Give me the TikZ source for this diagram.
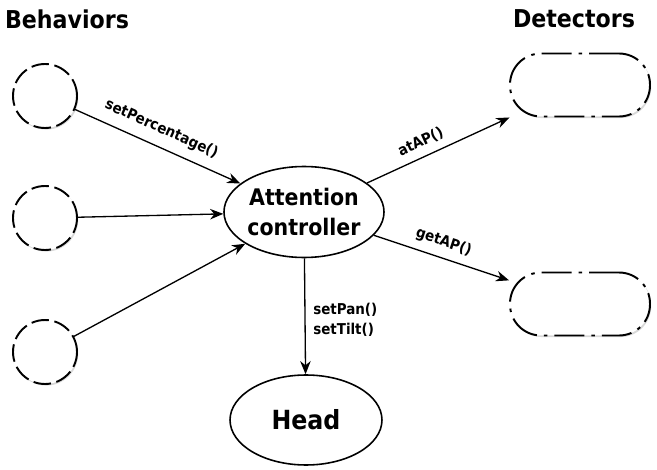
\documentclass[tikz,border=0pt]{standalone}
\usepackage{fontspec}
\setmainfont{DejaVu Sans Condensed}
\usepackage{tikz}
\usetikzlibrary{positioning}
\usetikzlibrary{shapes.geometric}
\usetikzlibrary{shadows}
\usetikzlibrary{arrows.meta}

\begin{document}
\begin{tikzpicture}[x=0.02cm, y=-0.02cm,
  behavior/.style={circle, draw, fill=white, line width=1.1pt,
    dash pattern=on 10pt off 3.2pt, minimum size=1.28cm,
    drop shadow={opacity=0.3, shadow xshift=0.7pt, shadow yshift=-0.9pt}},
  detector/.style={rectangle, draw, fill=white, rounded corners=0.62cm,
    line width=1.1pt, dash pattern=on 17pt off 4pt on 2pt off 4pt,
    minimum width=2.8cm, minimum height=1.26cm,
    drop shadow={opacity=0.3, shadow xshift=0.7pt, shadow yshift=-0.9pt}},
  module/.style={ellipse, draw, line width=0.9pt, align=center,
    minimum width=3.1cm, minimum height=1.82cm, inner sep=0pt},
  title/.style={font=\fontsize{14}{16}\selectfont\bfseries},
  call/.style={font=\fontsize{8.5}{10}\selectfont\bfseries},
  link/.style={-{Stealth[length=7.5pt, width=6pt]}, line width=0.75pt}]

\useasboundingbox (0,0) rectangle (657,470);

% titles
\node[title] (behaviors) at (67,19) {Behaviors};
\node[title] (detectors) at (574,19) {Detectors};

% behaviors
\node[behavior] (b1) at (45,96) {};
\node[behavior] (b2) at (45,218) {};
\node[behavior] (b3) at (45,352) {};

% controller and head
\node[module, font=\fontsize{13}{17.5}\selectfont\bfseries] (ctrl) at (304,212)
  {Attention\\controller};
\node[module, minimum width=3.04cm, minimum height=1.8cm,
  font=\fontsize{15}{17}\selectfont\bfseries] (head) at (306,420) {Head};

% detectors
\node[detector] (d1) at (580,85) {};
\node[detector] (d2) at (580,304) {};

% connectors
\draw[link] (b1) -- node[call, sloped, above=2pt, pos=0.48] {setPercentage()} (ctrl);
\draw[link] (b2) -- (ctrl);
\draw[link] (b3) -- (ctrl);
\draw[link] (ctrl) -- node[call, sloped, above=1pt, pos=0.42] {atAP()} (d1);
\draw[link] (ctrl) -- node[call, sloped, above=1pt, pos=0.48] {getAP()} (d2);
\draw[link] (ctrl) -- node[call, right=1pt, align=left, pos=0.53,
  font=\fontsize{8.5}{11}\selectfont\bfseries] {setPan()\\setTilt()} (head);

\end{tikzpicture}
\end{document}
